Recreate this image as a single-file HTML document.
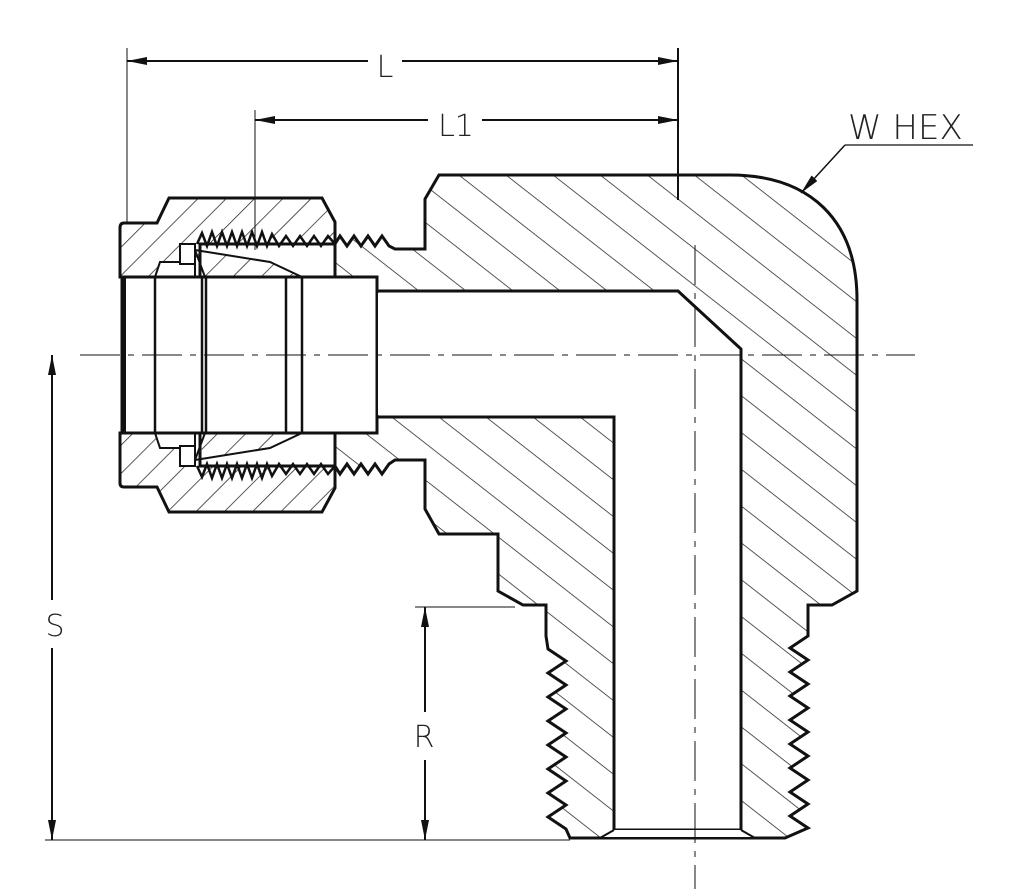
<!DOCTYPE html>
<html><head><meta charset="utf-8"><style>
html,body{margin:0;padding:0;background:#fff;}
svg{display:block;}
text{font-family:"DejaVu Sans","Liberation Sans",sans-serif;font-weight:200;fill:#222;}
</style></head><body>
<svg width="1015" height="889" viewBox="0 0 1015 889" xmlns="http://www.w3.org/2000/svg">
<defs>
<pattern id="hb" width="29" height="29" patternUnits="userSpaceOnUse" patternTransform="rotate(38)">
<line x1="0" y1="0" x2="29" y2="0" stroke="#222" stroke-width="1.4"/>
</pattern>
<pattern id="hn" width="20" height="20" patternUnits="userSpaceOnUse" patternTransform="rotate(-45)">
<line x1="0" y1="0" x2="20" y2="0" stroke="#222" stroke-width="1.4"/>
</pattern>
<marker id="ar" viewBox="0 0 20 8" refX="20" refY="4" markerWidth="20" markerHeight="8" markerUnits="userSpaceOnUse" orient="auto-start-reverse">
<path d="M0,0 L20,4 L0,8 Z" fill="#111"/>
</marker>
</defs>

<!-- body -->
<path d="M335,244 L340,236 347,246 354,236 361,246 368,236 375,246 382,236 389,246 395,249 L425,249 L425,199 L439,175 L730,175 C810,175 857,220 857,300 L857,591 L832,605 L808,605 L808,636
L790,648 808,660 790,672 808,684 790,696 808,708 790,720 808,732 790,744 808,756 790,768 808,780 790,792 808,804 790,816 808,828 L785,838
L570,838 L566,829 548,817 566,805 548,793 566,781 548,769 566,757 548,745 566,733 548,721 566,709 548,697 566,685 548,673 566,661 548,649 L546,636 L546,605 L523,605 L498,591 L498,534 L439,534 L425,509 L425,460 L395,460
L389,464 382,474 375,464 368,474 361,464 354,474 347,464 340,474 335,466 Z" fill="url(#hb)" stroke="#111" stroke-width="3" stroke-linejoin="miter"/>
<!-- bore -->
<path d="M370,291 L678,291 L741,349 L741,830 L614,830 L614,417 L370,417 Z" fill="#fff" stroke="#111" stroke-width="3"/>
<path d="M614,830 L600,838 L755,838 L741,830" fill="#fff" stroke="#111" stroke-width="2"/>

<!-- nut -->
<path d="M124,223 L157,223 L169,198 L322,198 L335,222 L335,244 L200,244 L200,277 L122,277 L120,277 L120,228 Q120,223 124,223 Z" fill="url(#hn)" stroke="#111" stroke-width="3"/>
<path d="M124,487 L157,487 L169,512 L322,512 L335,488 L335,466 L200,466 L200,433 L120,433 L120,483 Q120,487 124,487 Z" fill="url(#hn)" stroke="#111" stroke-width="3"/>
<!-- ferrule area -->
<path d="M195,250 L270,262 L302,277 L205,277 Z" fill="url(#hn)" stroke="#111" stroke-width="2"/>
<path d="M195,460 L270,448 L302,433 L205,433 Z" fill="url(#hn)" stroke="#111" stroke-width="2"/>
<path d="M160,262 L180,262 L195,250 L195,277 L155,277 Z" fill="#fff" stroke="#111" stroke-width="2"/>
<path d="M160,448 L180,448 L195,460 L195,433 L155,433 Z" fill="#fff" stroke="#111" stroke-width="2"/>
<rect x="180" y="244" width="15" height="20" fill="#fff" stroke="#111" stroke-width="2"/>
<rect x="180" y="446" width="15" height="20" fill="#fff" stroke="#111" stroke-width="2"/>
<!-- threads between nut and body -->
<polyline points="197,244 202,233 207,246 212,232 217,246 222,232 227,246 232,232 237,246 242,232 247,246 252,232 257,246 262,232 267,246 272,234 279,246 286,236 293,246 300,236 307,246 314,236 321,246 328,236 335,244" fill="none" stroke="#111" stroke-width="2.5"/>
<polyline points="197,466 202,477 207,464 212,478 217,464 222,478 227,464 232,478 237,464 242,478 247,464 252,478 257,464 262,478 267,464 272,476 279,464 286,474 293,464 300,474 307,464 314,474 321,464 328,474 335,466" fill="none" stroke="#111" stroke-width="2.5"/>

<!-- nut bore -->
<rect x="122" y="277" width="255" height="156" fill="#fff" stroke="#111" stroke-width="3"/>
<line x1="124" y1="277" x2="124" y2="433" stroke="#111" stroke-width="4"/>
<line x1="155" y1="277" x2="155" y2="433" stroke="#111" stroke-width="2.5"/>
<line x1="202" y1="277" x2="202" y2="433" stroke="#111" stroke-width="2.5"/>
<line x1="206" y1="277" x2="206" y2="433" stroke="#111" stroke-width="2.5"/>
<line x1="286" y1="277" x2="286" y2="433" stroke="#111" stroke-width="2.5"/>
<line x1="302" y1="277" x2="302" y2="433" stroke="#111" stroke-width="2.5"/>
<line x1="377" y1="277" x2="377" y2="292" stroke="#111" stroke-width="3"/>
<line x1="377" y1="417" x2="377" y2="433" stroke="#111" stroke-width="3"/>
<rect x="378" y="293" width="10" height="122" fill="#fff"/>

<!-- centerlines -->
<line x1="80" y1="355" x2="915" y2="355" stroke="#111" stroke-width="1" stroke-dasharray="40,8,6,8"/>
<line x1="695" y1="245" x2="695" y2="889" stroke="#111" stroke-width="1" stroke-dasharray="40,8,6,8"/>

<!-- dimensions -->
<line x1="127" y1="48" x2="127" y2="223" stroke="#111" stroke-width="1"/>
<line x1="255" y1="110" x2="255" y2="250" stroke="#111" stroke-width="1"/>
<line x1="678" y1="48" x2="678" y2="200" stroke="#111" stroke-width="2"/>
<line x1="127" y1="61" x2="368" y2="61" stroke="#111" stroke-width="2" marker-start="url(#ar)"/>
<line x1="402" y1="61" x2="678" y2="61" stroke="#111" stroke-width="2" marker-end="url(#ar)"/>
<text x="385" y="77" font-size="30" text-anchor="middle">L</text>
<line x1="255" y1="120" x2="428" y2="120" stroke="#111" stroke-width="2" marker-start="url(#ar)"/>
<line x1="482" y1="120" x2="678" y2="120" stroke="#111" stroke-width="2" marker-end="url(#ar)"/>
<text x="456" y="136" font-size="30" text-anchor="middle">L1</text>

<line x1="45" y1="840" x2="570" y2="840" stroke="#111" stroke-width="1"/>
<line x1="52" y1="355" x2="52" y2="600" stroke="#111" stroke-width="2" marker-start="url(#ar)"/>
<line x1="52" y1="648" x2="52" y2="840" stroke="#111" stroke-width="2" marker-end="url(#ar)"/>
<text x="55" y="636" font-size="30" text-anchor="middle">S</text>
<line x1="415" y1="607" x2="515" y2="607" stroke="#111" stroke-width="1"/>
<line x1="425" y1="607" x2="425" y2="712" stroke="#111" stroke-width="2" marker-start="url(#ar)"/>
<line x1="425" y1="760" x2="425" y2="840" stroke="#111" stroke-width="2" marker-end="url(#ar)"/>
<text x="424" y="747" font-size="30" text-anchor="middle">R</text>

<text x="848" y="139" font-size="34">W HEX</text>
<line x1="845" y1="145" x2="973" y2="145" stroke="#111" stroke-width="1.2"/>
<line x1="845" y1="145" x2="801" y2="193" stroke="#111" stroke-width="1.5" marker-end="url(#ar)"/>
</svg>
</body></html>
